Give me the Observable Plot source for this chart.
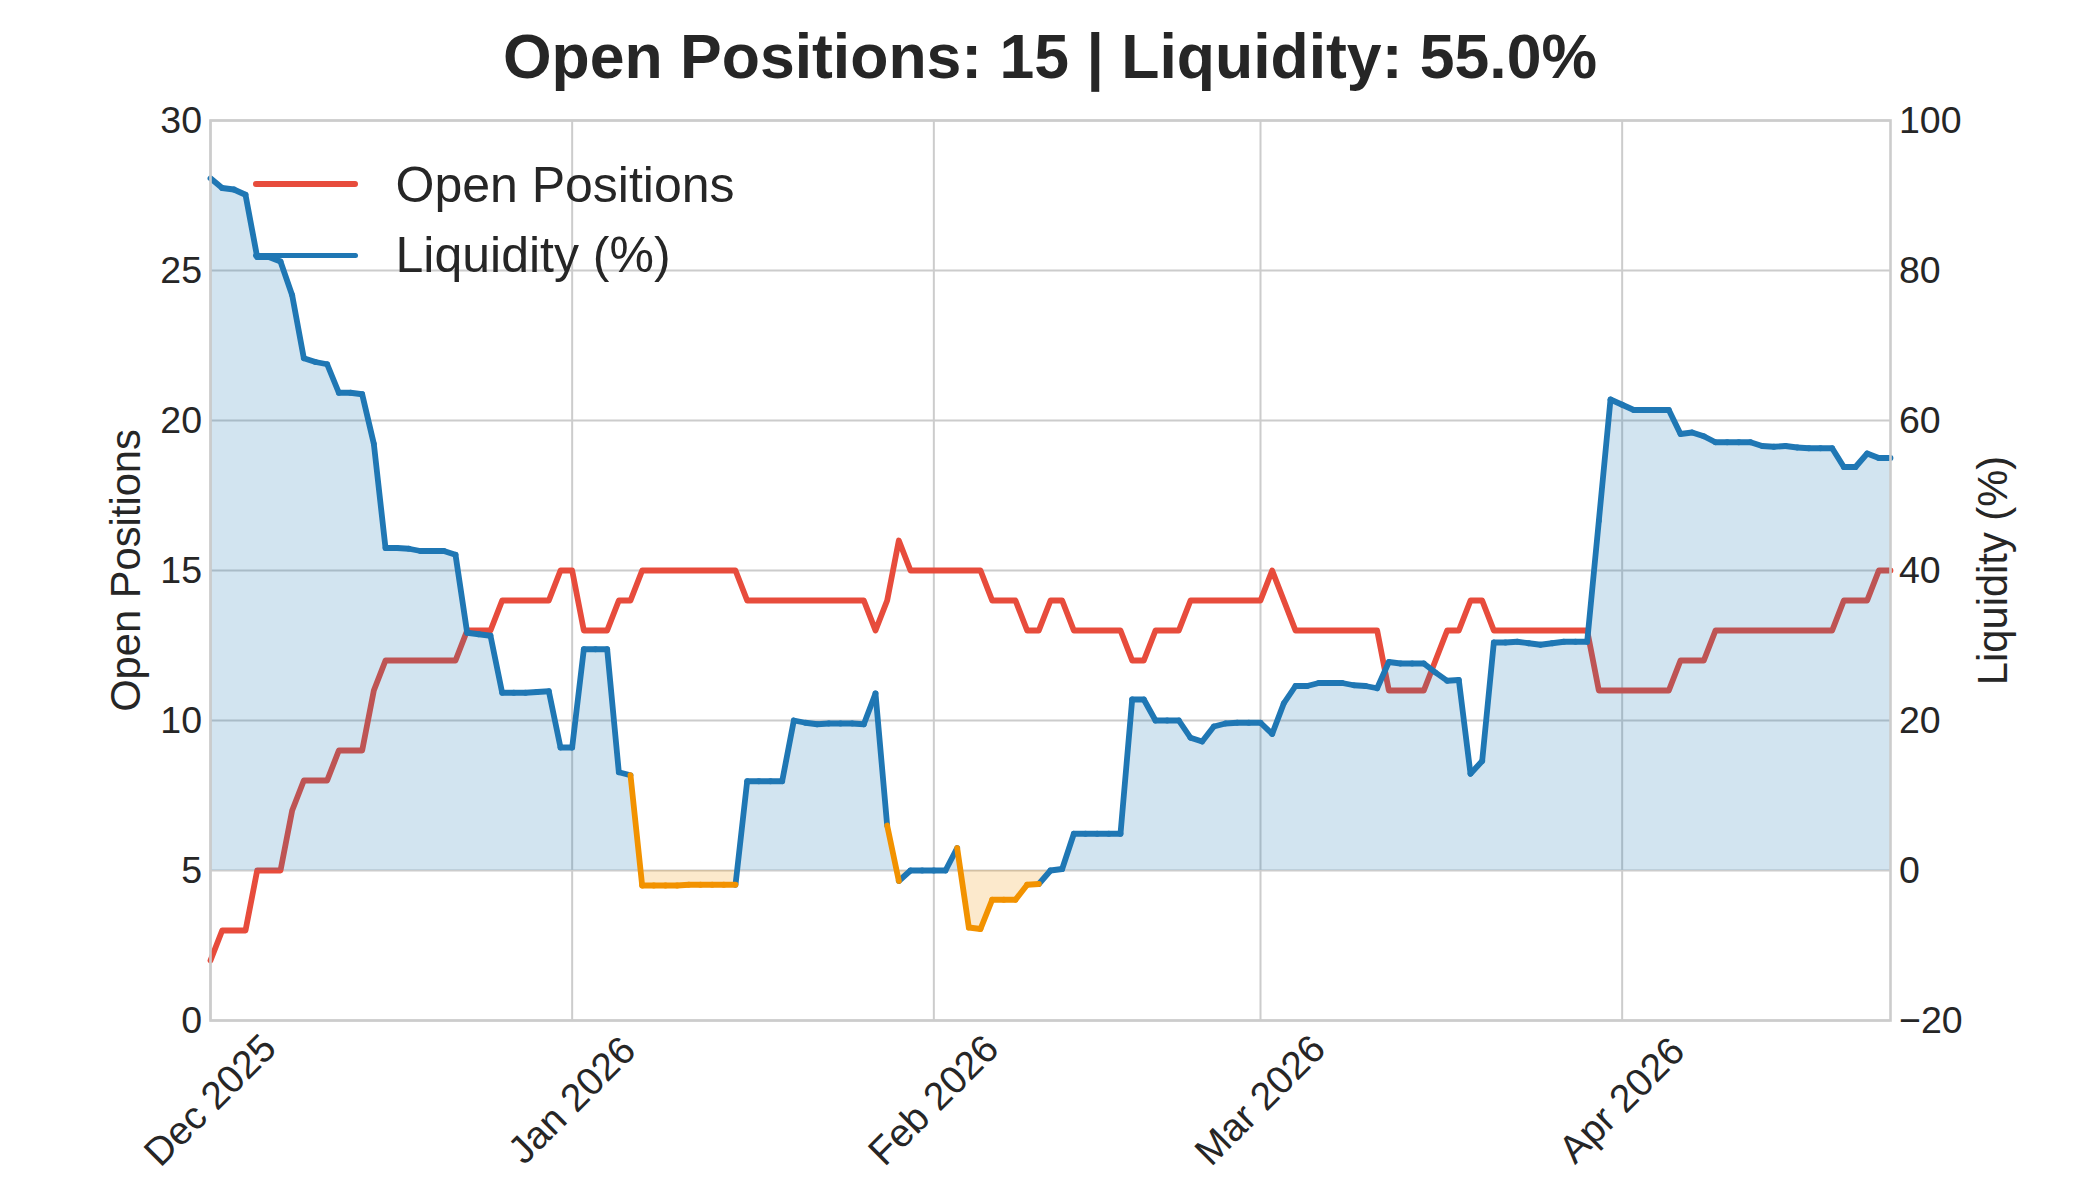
<!DOCTYPE html>
<html>
<head>
<meta charset="utf-8">
<script src="https://cdn.jsdelivr.net/npm/d3@7"></script>
<script src="https://cdn.jsdelivr.net/npm/@observablehq/plot@0.6"></script>
<style>
  body { margin: 0; background: #fff; }
  #page { position: relative; width: 2100px; height: 1200px; font-family: "Liberation Sans", Arial, Helvetica, sans-serif; color: #262626; background: #fff; }
  #title { height: 100px; box-sizing: border-box; padding-top: 25px; text-align: center; font-size: 62.5px; line-height: 62.5px; font-weight: bold; color: #262626; }
  .sw { position: absolute; height: 5.8px; border-radius: 2.9px; }
  .lt { position: absolute; font-size: 50px; line-height: 50px; white-space: nowrap; color: #262626; }
</style>
</head>
<body>
<div id="page">
  <div id="title"></div>
  <div id="chart"></div>
  <div class="sw" style="left:253px; top:181.1px; width:105px; background:#e74c3c;"></div>
  <div class="lt" id="leg1" style="left:395.5px; top:159.7px;"></div>
  <div class="sw" style="left:253px; top:252.7px; width:105px; background:#1f77b4;"></div>
  <div class="lt" id="leg2" style="left:395.5px; top:230.2px;"></div>
</div>
<script>
// ---- data (daily, starting 2025-12-01) ----
const startDate = "2025-12-01";
const openPositions = [
  2,3,3,3,5,5,5,7,8,8,
  8,9,9,9,11,12,12,12,12,12,
  12,12,13,13,13,14,14,14,14,14,
  15,15,13,13,13,14,14,15,15,15,
  15,15,15,15,15,15,14,14,14,14,
  14,14,14,14,14,14,14,13,14,16,
  15,15,15,15,15,15,15,14,14,14,
  13,13,14,14,13,13,13,13,13,12,
  12,13,13,13,14,14,14,14,14,14,
  14,15,14,13,13,13,13,13,13,13,
  13,11,11,11,11,12,13,13,14,14,
  13,13,13,13,13,13,13,13,13,11,
  11,11,11,11,11,11,12,12,12,13,
  13,13,13,13,13,13,13,13,13,13,
  14,14,14,15,15
];
const liquidity = [
  92.3,91.0,90.8,90.1,81.8,81.8,81.2,76.7,68.3,67.8,
  67.5,63.7,63.7,63.5,56.9,43.0,43.0,42.9,42.6,42.6,
  42.6,42.1,31.7,31.5,31.3,23.7,23.7,23.7,23.8,23.9,
  16.4,16.4,29.5,29.5,29.5,13.1,12.7,-2.0,-2.0,-2.0,
  -2.0,-1.9,-1.9,-1.9,-1.9,-1.9,11.9,11.9,11.9,11.9,
  20.0,19.7,19.5,19.6,19.6,19.6,19.5,23.6,6.0,-1.4,
  0.0,0.0,0.0,0.0,3.0,-7.6,-7.8,-3.9,-3.9,-3.9,
  -1.9,-1.8,0.0,0.2,4.9,4.9,4.9,4.9,4.9,22.8,
  22.8,20.0,20.0,20.0,17.7,17.2,19.2,19.6,19.7,19.7,
  19.7,18.2,22.3,24.6,24.6,25.0,25.0,25.0,24.7,24.6,
  24.3,27.8,27.6,27.6,27.6,26.4,25.3,25.4,12.9,14.6,
  30.4,30.4,30.5,30.3,30.1,30.3,30.5,30.5,30.5,46.6,
  62.8,62.1,61.4,61.4,61.4,61.4,58.2,58.4,57.9,57.1,
  57.1,57.1,57.1,56.6,56.5,56.6,56.4,56.3,56.3,56.3,
  53.8,53.8,55.6,55.0,55.0
];
const monthTicks = ["2025-12-01","2026-01-01","2026-02-01","2026-03-01","2026-04-01"];
const monthLabels = ["Dec 2025","Jan 2026","Feb 2026","Mar 2026","Apr 2026"];
const leftTicks = [0,5,10,15,20,25,30];
const rightTicks = [-20,0,20,40,60,80,100];
const seriesNames = ["Open Positions","Liquidity (%)"];

// ---- colours ----
const RED = "#e74c3c", BLUE = "#1f77b4", ORANGE = "#f29200";
const FONT = '"Liberation Sans", Arial, Helvetica, sans-serif';
const LW = 5.8;

// right axis (-20..100) mapped onto left axis (0..30)
const toLeft = v => v / 4 + 5;
const fromLeft = v => Math.round((v - 5) * 4);
const fmtNum = n => (n < 0 ? "\u2212" + Math.abs(n) : String(n));

const start = new Date(startDate);
const dates = d3.utcDay.range(start, d3.utcDay.offset(start, openPositions.length));
const rows = dates.map((date, i) => ({date, pos: openPositions[i], liq: liquidity[i], liqY: toLeft(liquidity[i])}));
const segs = d3.range(1, rows.length).map(i => ({
  x1: rows[i - 1].date, y1: rows[i - 1].liqY, x2: rows[i].date, y2: rows[i].liqY, neg: rows[i].liq < 0
}));
const zeroLeft = toLeft(0);
const tickDates = monthTicks.map(d => new Date(d));

document.getElementById("title").textContent =
  `Open Positions: ${openPositions[openPositions.length - 1]} | Liquidity: ${liquidity[liquidity.length - 1].toFixed(1)}%`;
document.getElementById("leg1").textContent = seriesNames[0];
document.getElementById("leg2").textContent = seriesNames[1];

const plot = Plot.plot({
  width: 2100,
  height: 1100,
  marginTop: 20,
  marginBottom: 180,
  marginLeft: 210,
  marginRight: 210,
  style: {fontFamily: FONT, color: "#262626", background: "white", overflow: "visible"},
  x: {type: "utc", domain: [dates[0], dates[dates.length - 1]], axis: null},
  y: {domain: [0, 30]},
  marks: [
    Plot.gridX(tickDates, {stroke: "#cccccc", strokeOpacity: 1, strokeWidth: 2}),
    Plot.gridY(leftTicks, {stroke: "#cccccc", strokeOpacity: 1, strokeWidth: 2}),
    Plot.lineY(rows, {x: "date", y: "pos", stroke: RED, strokeWidth: LW}),
    Plot.areaY(rows, {x: "date", y1: () => zeroLeft, y2: "liqY", fill: BLUE, fillOpacity: 0.2}),
    Plot.areaY(rows, {x: "date", y1: () => zeroLeft, y2: "liqY", fill: ORANGE, fillOpacity: 0.2}),
    Plot.link(segs.filter(s => !s.neg), {x1: "x1", y1: "y1", x2: "x2", y2: "y2", stroke: BLUE, strokeWidth: LW, strokeLinecap: "round"}),
    Plot.link(segs.filter(s => s.neg), {x1: "x1", y1: "y1", x2: "x2", y2: "y2", stroke: ORANGE, strokeWidth: LW, strokeLinecap: "round"}),
    Plot.frame({stroke: "#cccccc", strokeWidth: 2.6}),
    Plot.axisY({anchor: "left", ticks: leftTicks, tickSize: 0, tickPadding: 8.5, fontSize: 37.5, label: null}),
    Plot.axisY({anchor: "right", ticks: rightTicks.map(toLeft), tickFormat: v => fmtNum(fromLeft(v)), tickSize: 0, tickPadding: 8.5, fontSize: 37.5, label: null}),
    Plot.text(tickDates, {x: d => d, text: (d, i) => monthLabels[i], frameAnchor: "bottom", dy: 80, rotate: -45, fontSize: 39, textAnchor: "middle", lineAnchor: "middle", fill: "#262626"}),
    Plot.text([seriesNames[0]], {text: d => d, frameAnchor: "left", dx: -84, rotate: -90, fontSize: 41.7, textAnchor: "middle", lineAnchor: "middle", fill: "#262626"}),
    Plot.text([seriesNames[1]], {text: d => d, frameAnchor: "right", dx: 103, rotate: -90, fontSize: 41.7, textAnchor: "middle", lineAnchor: "middle", fill: "#262626"})
  ]
});

// clip the two fills at the zero line (blue above, orange below)
const y0 = plot.scale("y").apply(zeroLeft);
const ns = "http://www.w3.org/2000/svg";
const defs = document.createElementNS(ns, "defs");
const mk = (id, y, h) => {
  const cp = document.createElementNS(ns, "clipPath");
  cp.setAttribute("id", id);
  const r = document.createElementNS(ns, "rect");
  r.setAttribute("x", 0); r.setAttribute("y", y);
  r.setAttribute("width", 2100); r.setAttribute("height", h);
  cp.appendChild(r);
  defs.appendChild(cp);
};
mk("clipPos", 0, y0);
mk("clipNeg", y0, 1100 - y0);
plot.insertBefore(defs, plot.firstChild);
const areas = plot.querySelectorAll('g[aria-label="area"]');
if (areas[0]) areas[0].setAttribute("clip-path", "url(#clipPos)");
if (areas[1]) areas[1].setAttribute("clip-path", "url(#clipNeg)");

document.getElementById("chart").appendChild(plot);
</script>
</body>
</html>
